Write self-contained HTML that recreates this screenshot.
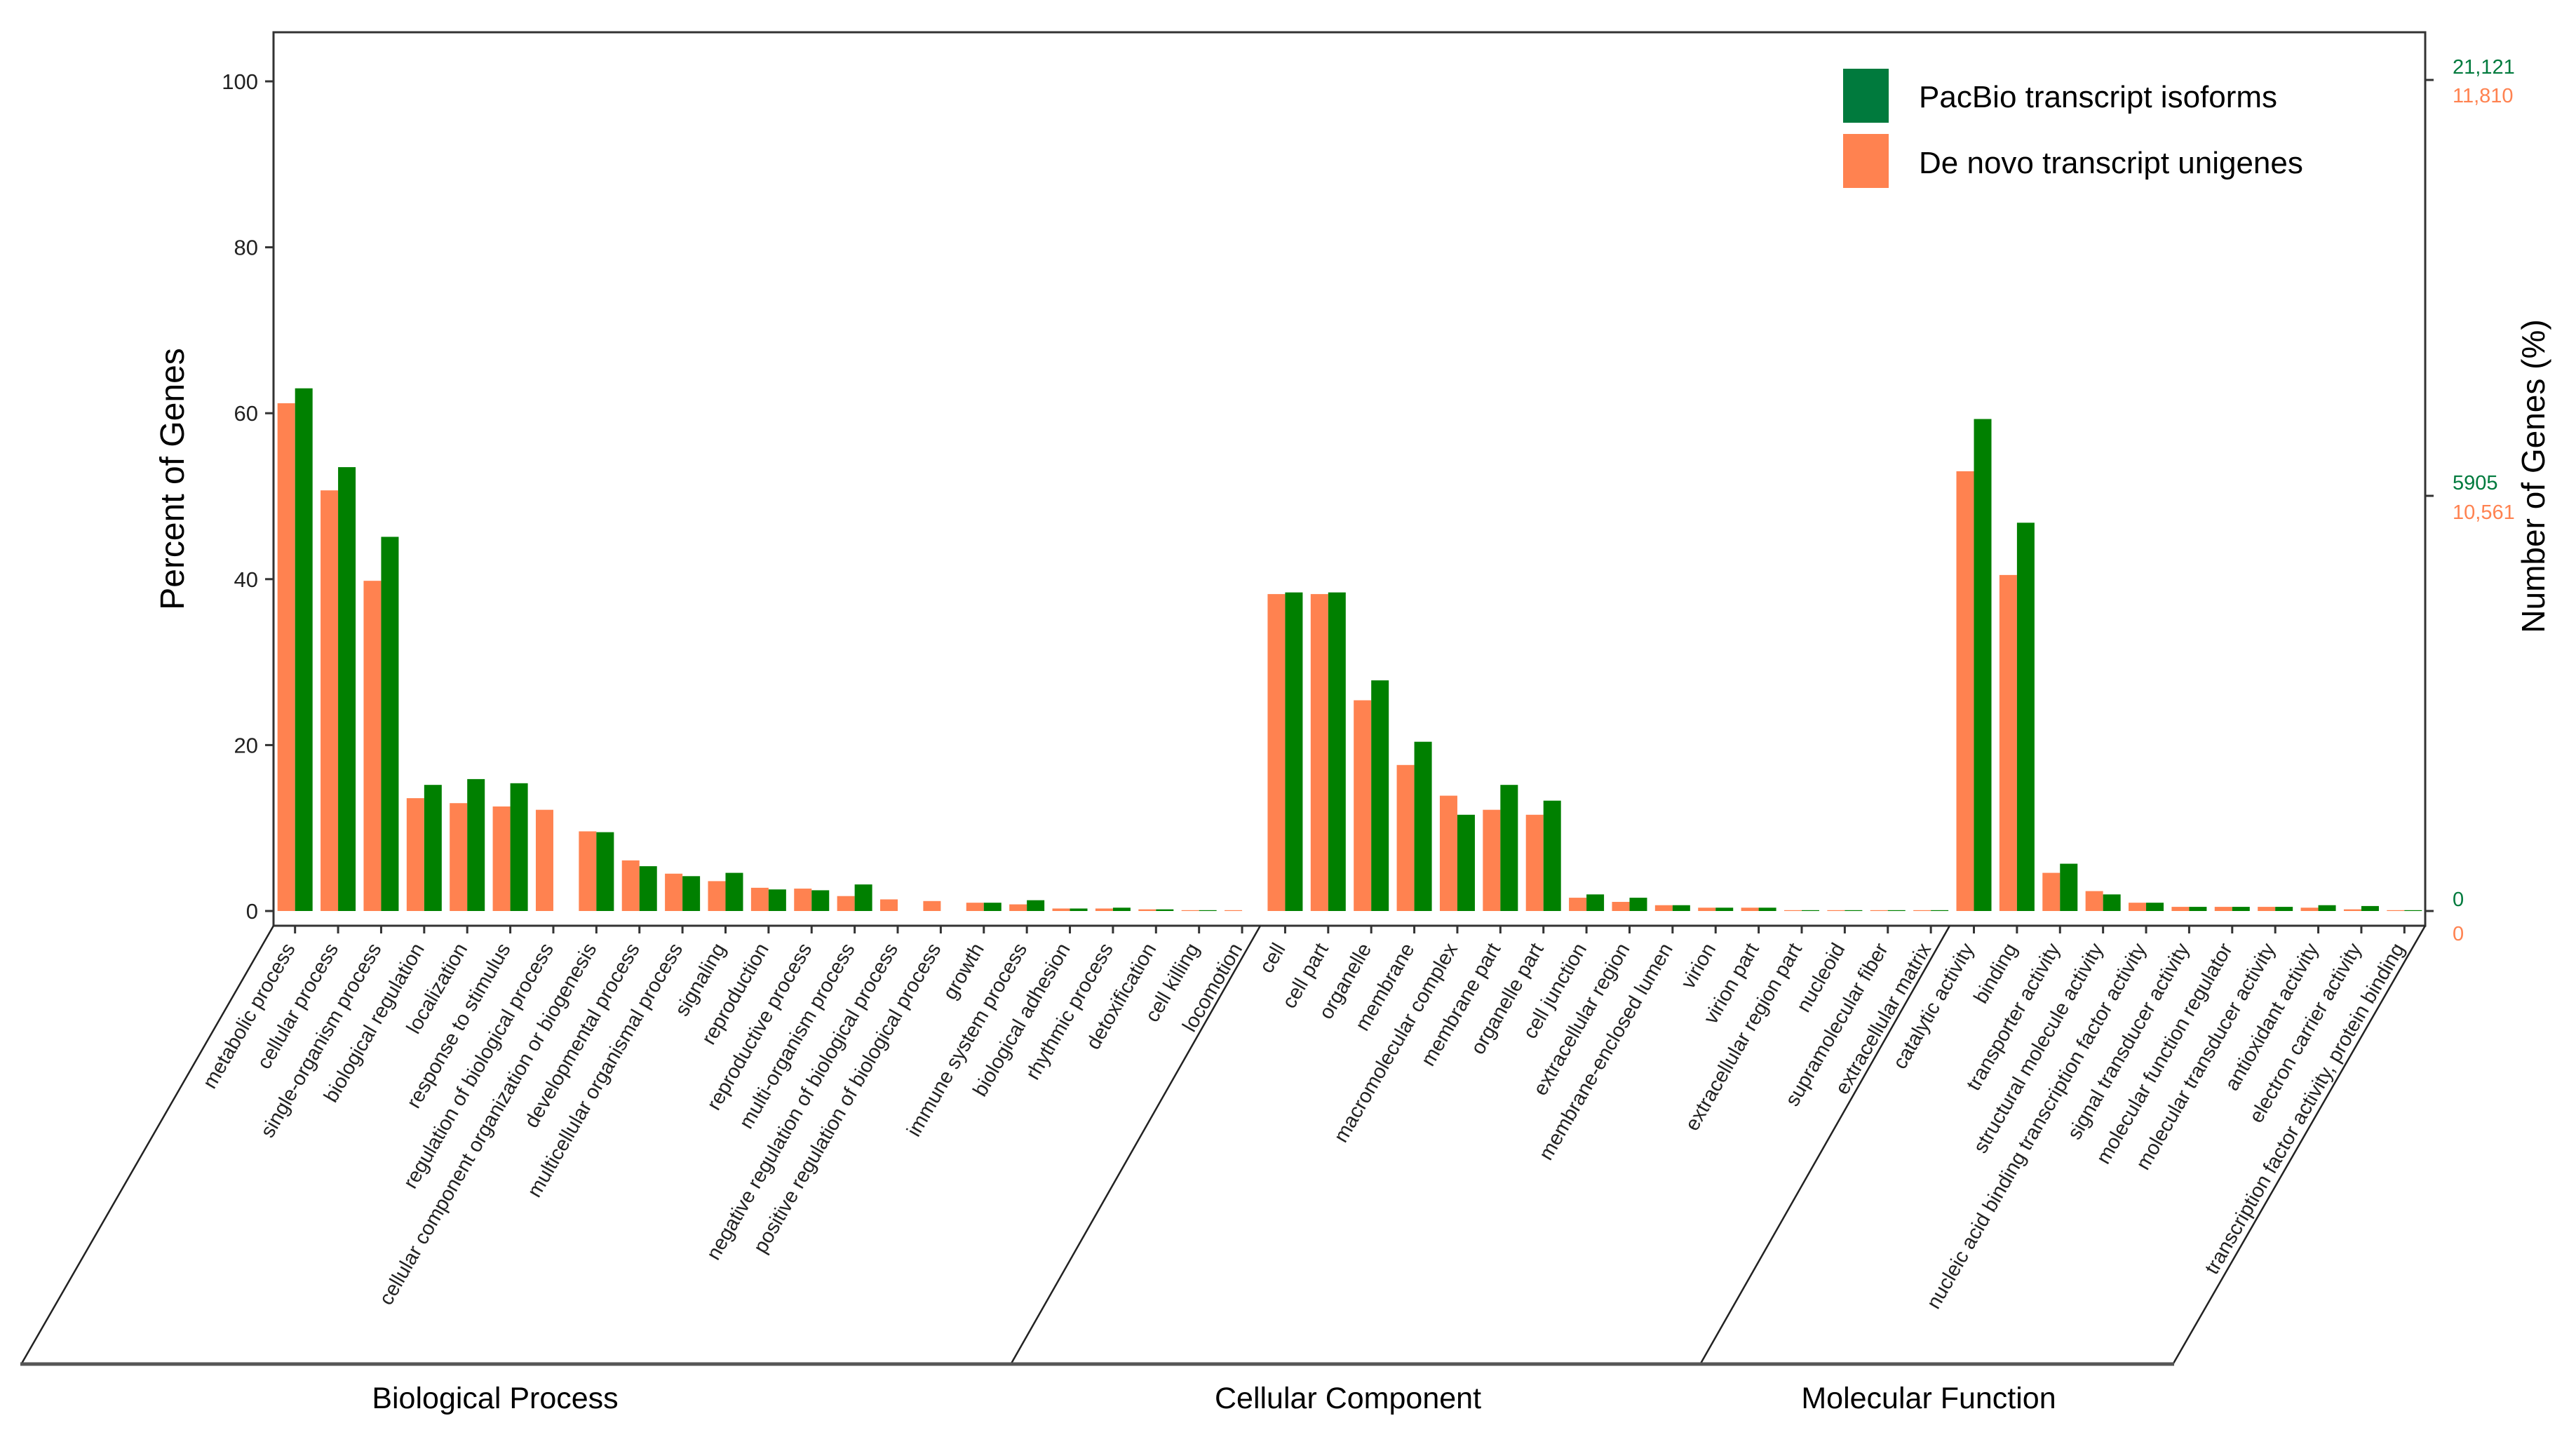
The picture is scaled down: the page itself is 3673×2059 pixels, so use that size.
<!DOCTYPE html>
<html><head><meta charset="utf-8"><style>
html,body{margin:0;padding:0;background:#fff;}
svg{display:block;font-family:"Liberation Sans",sans-serif;}
</style></head><body>
<svg id="chart" width="3673" height="2059" viewBox="0 0 3673 2059" xmlns="http://www.w3.org/2000/svg">
<rect x="390" y="46" width="3068" height="1274" fill="none" stroke="#333" stroke-width="3"/>
<g id="bars"></g>
<g id="axes"></g>
<g id="xlabels"></g>
<text x="0" y="0" transform="translate(262,683) rotate(-90)" text-anchor="middle" font-size="48">Percent of Genes</text>
<text x="0" y="0" transform="translate(3628,679) rotate(-90)" text-anchor="middle" font-size="46">Number of Genes (%)</text>
<g>
<rect x="2628" y="98" width="65" height="77" fill="#007A3D"/>
<text x="2736" y="153" font-size="44">PacBio transcript isoforms</text>
<rect x="2628" y="191" width="65" height="77" fill="#FF8250"/>
<text x="2736" y="247" font-size="44">De novo transcript unigenes</text>
</g>
<g font-size="29">
<line x1="3458" y1="114" x2="3470" y2="114" stroke="#333" stroke-width="3"/>
<line x1="3458" y1="707" x2="3470" y2="707" stroke="#333" stroke-width="3"/>
<line x1="3458" y1="1299" x2="3470" y2="1299" stroke="#333" stroke-width="3"/>
<text x="3497" y="105" fill="#007A3D">21,121</text>
<text x="3497" y="146" fill="#FF8250">11,810</text>
<text x="3497" y="698" fill="#007A3D">5905</text>
<text x="3497" y="740" fill="#FF8250">10,561</text>
<text x="3497" y="1292" fill="#007A3D">0</text>
<text x="3497" y="1341" fill="#FF8250">0</text>
</g>
<g stroke="#222" stroke-width="2.5" fill="none">
<line x1="390" y1="1320" x2="31" y2="1944"/>
<line x1="1797" y1="1320" x2="1442" y2="1944"/>
<line x1="2780" y1="1320" x2="2425" y2="1944"/>
<line x1="3458" y1="1320" x2="3099" y2="1944"/>
<line x1="29" y1="1945" x2="3100" y2="1945" stroke="#555" stroke-width="5"/>
</g>
<text x="706" y="2008" text-anchor="middle" font-size="43">Biological Process</text>
<text x="1922" y="2008" text-anchor="middle" font-size="43">Cellular Component</text>
<text x="2750" y="2008" text-anchor="middle" font-size="43">Molecular Function</text>
</svg>
<script>
const categories = ["metabolic process","cellular process","single-organism process","biological regulation","localization","response to stimulus","regulation of biological process","cellular component organization or biogenesis","developmental process","multicellular organismal process","signaling","reproduction","reproductive process","multi-organism process","negative regulation of biological process","positive regulation of biological process","growth","immune system process","biological adhesion","rhythmic process","detoxification","cell killing","locomotion","cell","cell part","organelle","membrane","macromolecular complex","membrane part","organelle part","cell junction","extracellular region","membrane-enclosed lumen","virion","virion part","extracellular region part","nucleoid","supramolecular fiber","extracellular matrix","catalytic activity","binding","transporter activity","structural molecule activity","nucleic acid binding transcription factor activity","signal transducer activity","molecular function regulator","molecular transducer activity","antioxidant activity","electron carrier activity","transcription factor activity, protein binding"];
const denovoValues = [61.2,50.7,39.8,13.6,13.0,12.6,12.2,9.6,6.1,4.5,3.6,2.8,2.7,1.8,1.4,1.2,1.0,0.8,0.3,0.3,0.2,0.1,0.1,38.2,38.2,25.4,17.6,13.9,12.2,11.6,1.6,1.1,0.7,0.4,0.4,0.1,0.1,0.1,0.1,53.0,40.5,4.6,2.4,1.0,0.5,0.5,0.5,0.4,0.2,0.1];
const pacbioValues = [63.0,53.5,45.1,15.2,15.9,15.4,0,9.5,5.4,4.2,4.6,2.6,2.5,3.2,0,0,1.0,1.3,0.3,0.4,0.2,0.1,0,38.4,38.4,27.8,20.4,11.6,15.2,13.3,2.0,1.6,0.7,0.4,0.4,0.1,0.1,0.1,0.1,59.3,46.8,5.7,2.0,1.0,0.5,0.5,0.5,0.7,0.6,0.1];
const yTicks = [0,20,40,60,80,100];

const NS="http://www.w3.org/2000/svg";
const x0=390, band=61.38, bw=25;
function xCenter(i){return x0+band*(i+0.5);}
function yScale(v){return 1299-v*11.83;}
function mk(tag,attrs,parent){const e=document.createElementNS(NS,tag);for(const k in attrs)e.setAttribute(k,attrs[k]);parent.appendChild(e);return e;}
const bars=document.getElementById('bars'), axes=document.getElementById('axes'), xl=document.getElementById('xlabels');
categories.forEach((c,i)=>{
  const cx=xCenter(i);
  const o=mk('rect',{x:cx-bw,y:yScale(denovoValues[i]),width:bw,height:yScale(0)-yScale(denovoValues[i]),fill:'#FF8250'},bars);
  
  
  const g=mk('rect',{x:cx,y:yScale(pacbioValues[i]),width:bw,height:yScale(0)-yScale(pacbioValues[i]),fill:'#008000'},bars);
  
  
  const t=mk('line',{x1:cx,y1:1320,x2:cx,y2:1331,stroke:'#333','stroke-width':3},axes);
  
  
  const lb=mk('text',{transform:`translate(${cx+1},1352) rotate(-60)`,'text-anchor':'end','font-size':29,fill:'#222'},xl);
  lb.textContent=c;
  
  
});
yTicks.forEach(v=>{
  const y=yScale(v);
  const l=mk('line',{x1:378,y1:y,x2:390,y2:y,stroke:'#333','stroke-width':3},axes);
  
  
  const t=mk('text',{x:368,y:y+11,'text-anchor':'end','font-size':31,fill:'#222'},axes);
  t.textContent=v;
  
  
});
</script>
</body></html>
